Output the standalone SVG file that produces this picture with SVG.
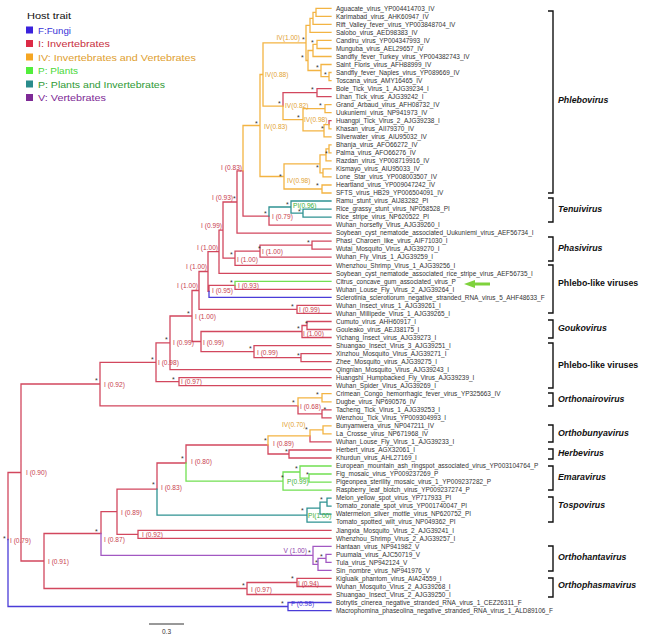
<svg xmlns="http://www.w3.org/2000/svg" width="651" height="636" viewBox="0 0 651 636">
<style>
.e{fill:none;stroke-width:1.3;stroke-linecap:square}
.r{stroke:#d2475e}.o{stroke:#f3b443}.g{stroke:#72e052}.t{stroke:#2f9292}.p{stroke:#a258c2}.b{stroke:#4a3cd8}
.tip{font-family:"Liberation Sans",Arial,sans-serif;font-size:6.45px;fill:#333}
.nl{font-family:"Liberation Sans",Arial,sans-serif;font-size:6.6px}
.lr{fill:#c8404e}.lo{fill:#e2a232}.lg{fill:#3cb035}.lp{fill:#8e42aa}.lb{fill:#4a3cd8}
.ast{font-family:"Liberation Sans",Arial,sans-serif;font-size:7px;fill:#333}
.cl{font-family:"Liberation Sans",Arial,sans-serif;font-size:8.8px;font-weight:bold;font-style:italic;fill:#111}
.cn{font-family:"Liberation Sans",Arial,sans-serif;font-size:8.8px;font-weight:bold;fill:#111}
.br{fill:none;stroke:#111;stroke-width:1.4}
.lg1{font-family:"Liberation Sans",Arial,sans-serif;font-size:9.8px}
</style>
<rect width="651" height="636" fill="#fff"/>
<g id="legend">
<text x="27" y="18.5" class="lg1" fill="#111" textLength="44" lengthAdjust="spacingAndGlyphs">Host trait</text>
<rect x="26" y="26.5" width="7" height="7" fill="#3a22dc"/><text x="38" y="33.5" class="lg1" fill="#3a33d8" textLength="33" lengthAdjust="spacingAndGlyphs">F:Fungi</text>
<rect x="26" y="40" width="7" height="7" fill="#dc2a46"/><text x="38" y="47" class="lg1" fill="#c8303e" textLength="72" lengthAdjust="spacingAndGlyphs">I: Invertebrates</text>
<rect x="26" y="53.5" width="7" height="7" fill="#f5a623"/><text x="38" y="60.5" class="lg1" fill="#e0a030" textLength="158" lengthAdjust="spacingAndGlyphs">IV: Invertebrates and Vertebrates</text>
<rect x="26" y="67" width="7" height="7" fill="#52ee3c"/><text x="38" y="74" class="lg1" fill="#48d838" textLength="40" lengthAdjust="spacingAndGlyphs">P: Plants</text>
<rect x="26" y="80.5" width="7" height="7" fill="#2a8c8c"/><text x="38" y="87.5" class="lg1" fill="#2e9a35" textLength="127" lengthAdjust="spacingAndGlyphs">P: Plants and Invertebrates</text>
<rect x="26" y="94" width="7" height="7" fill="#7e2a96"/><text x="38" y="101" class="lg1" fill="#7e2a96" textLength="68" lengthAdjust="spacingAndGlyphs">V: Vertebrates</text>
</g>
<g id="connectors">
<path class="e r" d="M8 539.5V472.5H21M21 472.5V384H100M21 472.5V561H44M100 384V362.3H156M100 384V405.8H298M156 362.3V342.8H170M156 362.3V381.7H179M179 381.7V377.7H331M179 381.7V385.7H331M170 342.8V316H192M170 342.8V369.7H331M192 316V290.5H199M192 316V341.5H201M201 341.5V331.5H302M201 341.5V351.6H254M302 331.5V325.5H307M302 331.5V337.5H331M307 325.5V321.5H331M307 325.5V329.5H331M254 351.6V345.6H331M254 351.6V357.6H301M301 357.6V353.6H331M301 357.6V361.6H331M199 290.5V271.5H208M199 290.5V309.4H297M297 309.4V305.4H331M297 309.4V313.4H331M208 271.5V251.7H219M208 271.5V291.4H209M209 291.4V285.3H235M235 285.3V289.4H331M219 251.7V230.1H223M219 251.7V273.3H331M223 230.1V202H237M223 230.1V258.2H235M235 258.2V251.2H260M235 258.2V265.3H331M260 251.2V245.2H312M260 251.2V257.2H331M312 245.2V241.2H331M312 245.2V249.2H331M237 202V170.8H243M237 202V233.1H331M243 170.8V216.1H269M269 216.1V225.1H331M283 106.2V92.6H317M317 92.6V88.6H331M317 92.6V96.6H331M329 124.7V120.7H331M298 405.8V413.8H322M322 413.8V409.8H331M322 413.8V417.8H331M310 435.9V441.9H331M268 445V454H289M289 454V450H331M289 454V458H331M186 463V445H268M157 489.1V463H186M117 511.7V489.1H157M117 511.7V534.3H138M138 534.3V530.3H331M138 534.3V538.3H331M101 533.5V511.7H117M44 561V533.5H101M44 561V588.5H247M247 588.5V582.5H297M247 588.5V594.5H331M297 582.5V578.4H331M297 582.5V586.5H331"/>
<path class="e o" d="M243 170.8V125.5H260M260 125.5V74.5H263M260 125.5V176.5H284M263 74.5V42.9H306M263 74.5V106.2H283M306 42.9V25.4H310M306 42.9V60.5H308M310 25.4V18.35H313M310 25.4V32.4H331M313 18.35V12.3H316M313 18.35V24.4H331M316 12.3V8.3H331M316 12.3V16.3H331M308 60.5V50.5H313M308 60.5V70.5H321M313 50.5V44.4H317M313 50.5V56.5H331M317 44.4V40.4H331M317 44.4V48.5H331M321 70.5V64.5H331M321 70.5V76.6H329M329 76.6V72.5H331M329 76.6V80.6H331M283 106.2V119.7H303M303 119.7V108.7H325M303 119.7V130.8H324M325 108.7V104.7H331M325 108.7V112.7H331M324 130.8V124.7H329M324 130.8V136.8H331M329 124.7V128.8H331M284 176.5V163.9H320M284 176.5V189H322M320 163.9V154.9H326M320 163.9V172.9H323M326 154.9V148.8H329M326 154.9V160.9H331M329 148.8V144.8H331M329 148.8V152.8H331M323 172.9V168.9H331M323 172.9V176.9H331M322 189V185H331M322 189V193H331M298 405.8V397.8H322M322 397.8V393.7H331M322 397.8V401.8H331M268 445V435.9H310M310 435.9V429.9H323M323 429.9V425.9H331M323 429.9V433.9H331"/>
<path class="e t" d="M269 216.1V207H291M291 207V201H331M291 207V213.1H303M303 213.1V209.1H331M303 213.1V217.1H331M157 489.1V515.2H307M307 515.2V508.2H320M307 515.2V522.2H331M320 508.2V502.1H327M320 508.2V514.2H331M327 502.1V498.1H331M327 502.1V506.2H331"/>
<path class="e g" d="M235 285.3V281.3H331M186 463V481.1H283M283 481.1V472H300M283 481.1V490.1H331M300 472V466H331M300 472V478.1H309M309 478.1V474H331M309 478.1V482.1H331"/>
<path class="e p" d="M101 533.5V555.4H313M313 555.4V546.3H331M313 555.4V564.4H318M318 564.4V558.4H326M318 564.4V570.4H331M326 558.4V554.3H331M326 558.4V562.4H331"/>
<path class="e b" d="M209 291.4V297.4H331M8 539.5V606.5H288M288 606.5V602.5H331M288 606.5V610.6H331"/>
</g>
<g id="node-labels" class="nl">
<text x="300" y="39.5" class="lo" text-anchor="end">IV(1.00)</text>
<text x="265" y="77.3" class="lo">IV(0.88)</text>
<text x="285" y="108" class="lo">IV(0.82)</text>
<text x="304" y="122.3" class="lo">IV(0.98)</text>
<text x="264" y="129.3" class="lo">IV(0.83)</text>
<text x="287" y="182.5" class="lo">IV(0.98)</text>
<text x="242" y="169.5" class="lr" text-anchor="end">I (0.83)</text>
<text x="233" y="199.5" class="lr" text-anchor="end">I (0.93)</text>
<text x="293" y="208.3" class="lg">PI(0.96)</text>
<text x="272" y="219.2" class="lr">I (0.79)</text>
<text x="222" y="227.5" class="lr" text-anchor="end">I (0.99)</text>
<text x="218" y="249.5" class="lr" text-anchor="end">I (1.00)</text>
<text x="262" y="254.2" class="lr">I (1.00)</text>
<text x="237" y="261.5" class="lr">I (1.00)</text>
<text x="207" y="268.5" class="lr" text-anchor="end">I (1.00)</text>
<text x="198" y="288.2" class="lr" text-anchor="end">I (1.00)</text>
<text x="238" y="288.2" class="lr">I (0.93)</text>
<text x="212" y="292.6" class="lr">I (0.95)</text>
<text x="299" y="311.7" class="lr">I (0.99)</text>
<text x="195" y="319.2" class="lr">I (1.00)</text>
<text x="303" y="335.5" class="lr">I (1.00)</text>
<text x="173" y="345.2" class="lr">I (0.99)</text>
<text x="203" y="345.2" class="lr">I (0.99)</text>
<text x="257" y="355" class="lr">I (0.99)</text>
<text x="158" y="365.2" class="lr">I (0.98)</text>
<text x="181" y="384.2" class="lr">I (0.97)</text>
<text x="104" y="386.8" class="lr">I (0.92)</text>
<text x="300" y="408.5" class="lr">I (0.68)</text>
<text x="26" y="475.2" class="lr">I (0.90)</text>
<text x="282" y="426.5" class="lo">IV(0.70)</text>
<text x="273" y="445.5" class="lr">I (0.89)</text>
<text x="191" y="463.5" class="lr">I (0.80)</text>
<text x="287" y="484.2" class="lg">P(0.99)</text>
<text x="161" y="489.5" class="lr">I (0.83)</text>
<text x="121" y="514.5" class="lr">I (0.89)</text>
<text x="308" y="518.2" class="lg">PI(1.00)</text>
<text x="142" y="537.2" class="lr">I (0.92)</text>
<text x="104" y="541.8" class="lr">I (0.87)</text>
<text x="307" y="553.2" class="lp" text-anchor="end">V (1.00)</text>
<text x="48" y="563.5" class="lr">I (0.91)</text>
<text x="298" y="585.5" class="lr">I (0.94)</text>
<text x="251" y="591.5" class="lr">I (0.97)</text>
<text x="291" y="606.2" class="lb">F (0.98)</text>
<text x="10" y="542.5" class="lr">I (0.79)</text>
</g>
<g id="support-marks" class="ast">
<text x="302" y="42">*</text><text x="311" y="45">*</text><text x="301" y="60">*</text><text x="316" y="70">*</text><text x="324" y="77">*</text>
<text x="311" y="92">*</text><text x="278" y="106">*</text><text x="297" y="120">*</text><text x="319" y="108">*</text><text x="321" y="131">*</text>
<text x="255" y="126">*</text><text x="325" y="156">*</text><text x="316" y="170">*</text><text x="279" y="179">*</text><text x="316" y="188">*</text>
<text x="233" y="201">*</text><text x="286" y="207">*</text><text x="298" y="214">*</text><text x="264" y="216">*</text>
<text x="307" y="245">*</text><text x="258" y="251">*</text><text x="230" y="257">*</text><text x="230" y="285">*</text>
<text x="291" y="309">*</text><text x="187" y="316">*</text><text x="305" y="326">*</text><text x="297" y="331">*</text>
<text x="165" y="342">*</text><text x="249" y="351">*</text><text x="151" y="362">*</text><text x="297" y="358">*</text>
<text x="172" y="382">*</text><text x="95" y="383">*</text><text x="292" y="405">*</text><text x="316" y="397">*</text><text x="323.5" y="412">*</text>
<text x="305" y="432">*</text><text x="264" y="443">*</text><text x="285" y="454">*</text>
<text x="181" y="461">*</text><text x="281" y="480">*</text><text x="295" y="471">*</text><text x="306" y="477">*</text>
<text x="152" y="487">*</text><text x="320" y="502">*</text><text x="301" y="513">*</text><text x="95" y="534">*</text>
<text x="308" y="555">*</text><text x="320" y="559">*</text><text x="315" y="565">*</text>
<text x="291" y="581">*</text><text x="242" y="588">*</text><text x="281" y="606">*</text><text x="3" y="541">*</text>
</g>
<g id="tips" class="tip">
<text x="336" y="10.5">Aguacate_virus_YP004414703_IV</text>
<text x="336" y="18.5">Karimabad_virus_AHK60947_IV</text>
<text x="336" y="26.6">Rift_Valley_fever_virus_YP003848704_IV</text>
<text x="336" y="34.6">Salobo_virus_AED98383_IV</text>
<text x="336" y="42.6">Candiru_virus_YP004347993_IV</text>
<text x="336" y="50.7">Munguba_virus_AEL29657_IV</text>
<text x="336" y="58.7">Sandfly_fever_Turkey_virus_YP004382743_IV</text>
<text x="336" y="66.7">Saint_Floris_virus_AFH88999_IV</text>
<text x="336" y="74.7">Sandfly_fever_Naples_virus_YP089669_IV</text>
<text x="336" y="82.8">Toscana_virus_AMY16465_IV</text>
<text x="336" y="90.8">Bole_Tick_Virus_1_AJG39234_I</text>
<text x="336" y="98.8">Lihan_Tick_virus_AJG39242_I</text>
<text x="336" y="106.9">Grand_Arbaud_virus_AFH08732_IV</text>
<text x="336" y="114.9">Uukuniemi_virus_NP941973_IV</text>
<text x="336" y="122.9">Huangpi_Tick_Virus_2_AJG39238_I</text>
<text x="336" y="131">Khasan_virus_AII79370_IV</text>
<text x="336" y="139">Silverwater_virus_AIU95032_IV</text>
<text x="336" y="147">Bhanja_virus_AFO66272_IV</text>
<text x="336" y="155">Palma_virus_AFO66276_IV</text>
<text x="336" y="163.1">Razdan_virus_YP008719916_IV</text>
<text x="336" y="171.1">Kismayo_virus_AIU95033_IV</text>
<text x="336" y="179.1">Lone_Star_virus_YP008003507_IV</text>
<text x="336" y="187.2">Heartland_virus_YP009047242_IV</text>
<text x="336" y="195.2">SFTS_virus_HB29_YP006504091_IV</text>
<text x="336" y="203.2">Ramu_stunt_virus_AIJ83282_PI</text>
<text x="336" y="211.3">Rice_grassy_stunt_virus_NP058528_PI</text>
<text x="336" y="219.3">Rice_stripe_virus_NP620522_PI</text>
<text x="336" y="227.3">Wuhan_horsefly_Virus_AJG39260_I</text>
<text x="336" y="235.3">Soybean_cyst_nematode_associated_Uukuniemi_virus_AEF56734_I</text>
<text x="336" y="243.4">Phasi_Charoen_like_virus_AIF71030_I</text>
<text x="336" y="251.4">Wutai_Mosquito_Virus_AJG39270_I</text>
<text x="336" y="259.4">Wuhan_Fly_Virus_1_AJG39259_I</text>
<text x="336" y="267.5">Whenzhou_Shrimp_Virus_1_AJG39256_I</text>
<text x="336" y="275.5">Soybean_cyst_nematode_associated_rice_stripe_virus_AEF56735_I</text>
<text x="336" y="283.5">Citrus_concave_gum_associated_virus_P</text>
<text x="336" y="291.6">Wuhan_Louse_Fly_Virus_2_AJG39264_I</text>
<text x="336" y="299.6">Sclerotinia_sclerotiorum_negative_stranded_RNA_virus_5_AHF48633_F</text>
<text x="336" y="307.6">Wuhan_Insect_virus_1_AJG39261_I</text>
<text x="336" y="315.6">Wuhan_Millipede_Virus_1_AJG39265_I</text>
<text x="336" y="323.7">Cumuto_virus_AHH60917_I</text>
<text x="336" y="331.7">Gouleako_virus_AEJ38175_I</text>
<text x="336" y="339.7">Yichang_Insect_virus_AJG39273_I</text>
<text x="336" y="347.8">Shuangao_Insect_Virus_3_AJG39251_I</text>
<text x="336" y="355.8">Xinzhou_Mosquito_Virus_AJG39271_I</text>
<text x="336" y="363.8">Zhee_Mosquito_virus_AJG39275_I</text>
<text x="336" y="371.9">Qingnian_Mosquito_Virus_AJG39243_I</text>
<text x="336" y="379.9">Huangshi_Humpbacked_Fly_Virus_AJG39239_I</text>
<text x="336" y="387.9">Wuhan_Spider_Virus_AJG39269_I</text>
<text x="336" y="395.9">Crimean_Congo_hemorrhagic_fever_virus_YP325663_IV</text>
<text x="336" y="404">Dugbe_virus_NP690576_IV</text>
<text x="336" y="412">Tacheng_Tick_Virus_1_AJG39253_I</text>
<text x="336" y="420">Wenzhou_Tick_Virus_YP009304993_I</text>
<text x="336" y="428.1">Bunyamwera_virus_NP047211_IV</text>
<text x="336" y="436.1">La_Crosse_virus_NP671968_IV</text>
<text x="336" y="444.1">Wuhan_Louse_Fly_Virus_1_AJG39233_I</text>
<text x="336" y="452.2">Herbert_virus_AGX32061_I</text>
<text x="336" y="460.2">Khurdun_virus_AHL27169_I</text>
<text x="336" y="468.2">European_mountain_ash_ringspot_associated_virus_YP003104764_P</text>
<text x="336" y="476.2">Fig_mosaic_virus_YP009237269_P</text>
<text x="336" y="484.3">Pigeonpea_sterility_mosaic_virus_1_YP009237282_P</text>
<text x="336" y="492.3">Raspberry_leaf_blotch_virus_YP009237274_P</text>
<text x="336" y="500.3">Melon_yellow_spot_virus_YP717933_PI</text>
<text x="336" y="508.4">Tomato_zonate_spot_virus_YP001740047_PI</text>
<text x="336" y="516.4">Watermelon_silver_mottle_virus_NP620752_PI</text>
<text x="336" y="524.4">Tomato_spotted_wilt_virus_NP049362_PI</text>
<text x="336" y="532.5">Jiangxia_Mosquito_Virus_2_AJG39241_I</text>
<text x="336" y="540.5">Whenzhou_Shrimp_Virus_2_AJG39257_I</text>
<text x="336" y="548.5">Hantaan_virus_NP941982_V</text>
<text x="336" y="556.5">Puumala_virus_AJC50719_V</text>
<text x="336" y="564.6">Tula_virus_NP942124_V</text>
<text x="336" y="572.6">Sin_nombre_virus_NP941976_V</text>
<text x="336" y="580.6">Kigluaik_phantom_virus_AIA24559_I</text>
<text x="336" y="588.7">Wuhan_Mosquito_Virus_2_AJG39268_I</text>
<text x="336" y="596.7">Shuangao_Insect_Virus_2_AJG39250_I</text>
<text x="336" y="604.7">Botrytis_cinerea_negative_stranded_RNA_virus_1_CEZ26311_F</text>
<text x="336" y="612.8">Macrophomina_phaseolina_negative_stranded_RNA_virus_1_ALD89106_F</text>
</g>
<g id="arrow">
<path d="M475 282.5H490V285.5H475V288L464 284L475 280Z" fill="#7ed23c"/>
</g>
<g id="clades">
<path class="br" d="M548 11H553V193H548M548 198H553V222H548M548 237H553V261H548M548 265H553V313H548M548 320H553V338H548M548 343H553V388H548M548 393H553V406H548M548 425H553V442H548M548 449H553V459H548M548 466H553V490H548M548 497H553V522H548M548 546H553V571H548M548 578H553V597H548"/>
<text x="558" y="103" class="cl">Phlebovirus</text>
<text x="558" y="212" class="cl">Tenuivirus</text>
<text x="558" y="251" class="cl">Phasivirus</text>
<text x="558" y="286" class="cn">Phlebo-like viruses</text>
<text x="558" y="331" class="cl">Goukovirus</text>
<text x="558" y="368" class="cn">Phlebo-like viruses</text>
<text x="558" y="402" class="cl">Orthonairovirus</text>
<text x="558" y="436" class="cl">Orthobunyavirus</text>
<text x="558" y="456" class="cl">Herbevirus</text>
<text x="558" y="480" class="cl">Emaravirus</text>
<text x="558" y="508" class="cl">Tospovirus</text>
<text x="558" y="560" class="cl">Orthohantavirus</text>
<text x="558" y="588" class="cl">Orthophasmavirus</text>
</g>
<g id="scale">
<path d="M149 624H184" stroke="#333" stroke-width="1"/>
<text x="166.5" y="634" text-anchor="middle" font-family="Liberation Sans, Arial, sans-serif" font-size="6.5" fill="#333">0.3</text>
</g>
</svg>
